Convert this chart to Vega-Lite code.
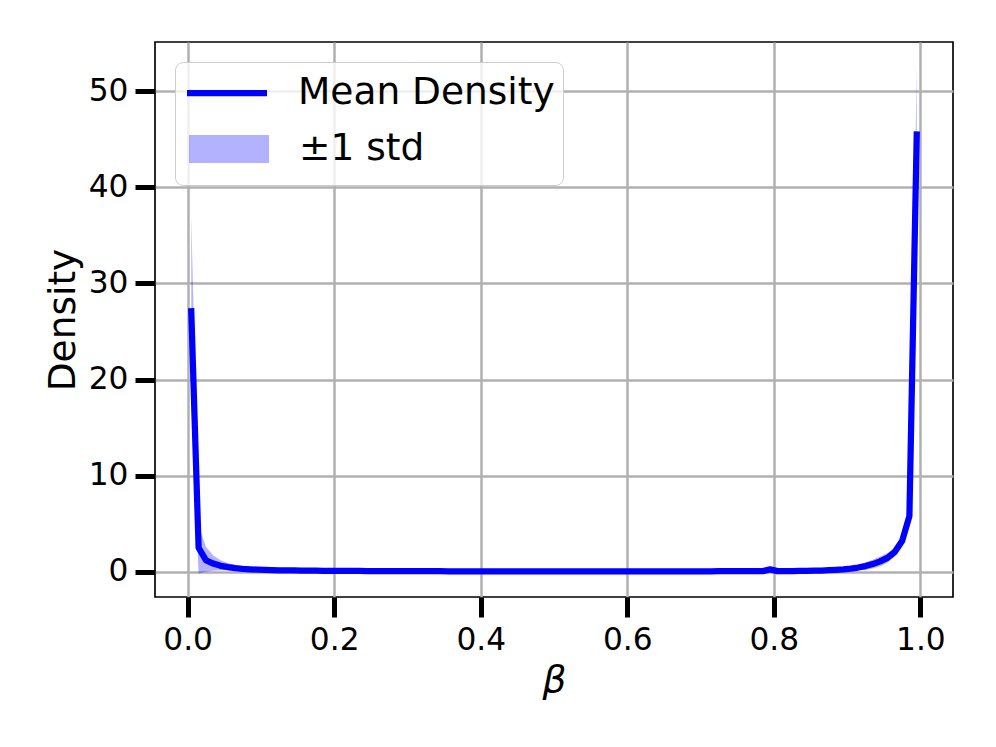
{
  "$schema": "https://vega.github.io/schema/vega-lite/v6.json",
  "width": 798,
  "height": 555,
  "autosize": {"type": "none"},
  "padding": {"left": 155, "top": 42, "right": 43, "bottom": 150},
  "background": "white",
  "config": {
    "view": {"stroke": "black", "strokeWidth": 1.67},
    "axis": {
      "domain": false,
      "grid": true,
      "gridColor": "#b0b0b0",
      "gridWidth": 2.5,
      "tickColor": "black",
      "tickSize": 20,
      "tickWidth": 5,
      "labelFontSize": 31.25,
      "labelFont": "DejaVu Sans",
      "labelColor": "black",
      "labelPadding": 7,
      "titleFont": "DejaVu Sans",
      "titleFontSize": 37.5,
      "titleFontWeight": "normal",
      "titleColor": "black"
    },
    "legend": {
      "orient": "none",
      "labelFontSize": 37.5,
      "labelFont": "DejaVu Sans",
      "labelColor": "black",
      "labelLimit": 500,
      "symbolSize": 1600
    }
  },
  "data": {
    "values": [
      {"x": 0.005, "mean": 27.1, "lower": 17.8, "upper": 37.0},
      {"x": 0.015, "mean": 2.5, "lower": -0.2, "upper": 4.8},
      {"x": 0.025, "mean": 1.2, "lower": 0.0, "upper": 2.6},
      {"x": 0.035, "mean": 0.85, "lower": 0.1, "upper": 1.7},
      {"x": 0.045, "mean": 0.62, "lower": 0.15, "upper": 1.2},
      {"x": 0.055, "mean": 0.49, "lower": 0.15, "upper": 0.9},
      {"x": 0.065, "mean": 0.38, "lower": 0.12, "upper": 0.7},
      {"x": 0.075, "mean": 0.31, "lower": 0.1, "upper": 0.55},
      {"x": 0.085, "mean": 0.26, "lower": 0.1, "upper": 0.45},
      {"x": 0.095, "mean": 0.22, "lower": 0.08, "upper": 0.38},
      {"x": 0.105, "mean": 0.19, "lower": 0.07, "upper": 0.32},
      {"x": 0.115, "mean": 0.17, "lower": 0.06, "upper": 0.28},
      {"x": 0.125, "mean": 0.155, "lower": 0.06, "upper": 0.25},
      {"x": 0.135, "mean": 0.145, "lower": 0.05, "upper": 0.24},
      {"x": 0.145, "mean": 0.135, "lower": 0.05, "upper": 0.22},
      {"x": 0.155, "mean": 0.125, "lower": 0.05, "upper": 0.2},
      {"x": 0.165, "mean": 0.12, "lower": 0.05, "upper": 0.19},
      {"x": 0.175, "mean": 0.11, "lower": 0.04, "upper": 0.18},
      {"x": 0.185, "mean": 0.105, "lower": 0.04, "upper": 0.17},
      {"x": 0.195, "mean": 0.1, "lower": 0.04, "upper": 0.16},
      {"x": 0.205, "mean": 0.095, "lower": 0.04, "upper": 0.15},
      {"x": 0.215, "mean": 0.09, "lower": 0.04, "upper": 0.14},
      {"x": 0.225, "mean": 0.088, "lower": 0.04, "upper": 0.14},
      {"x": 0.235, "mean": 0.085, "lower": 0.03, "upper": 0.14},
      {"x": 0.245, "mean": 0.08, "lower": 0.03, "upper": 0.13},
      {"x": 0.255, "mean": 0.078, "lower": 0.03, "upper": 0.13},
      {"x": 0.265, "mean": 0.075, "lower": 0.03, "upper": 0.12},
      {"x": 0.275, "mean": 0.072, "lower": 0.03, "upper": 0.12},
      {"x": 0.285, "mean": 0.07, "lower": 0.03, "upper": 0.11},
      {"x": 0.295, "mean": 0.068, "lower": 0.03, "upper": 0.11},
      {"x": 0.305, "mean": 0.065, "lower": 0.03, "upper": 0.1},
      {"x": 0.315, "mean": 0.063, "lower": 0.03, "upper": 0.1},
      {"x": 0.325, "mean": 0.06, "lower": 0.02, "upper": 0.1},
      {"x": 0.335, "mean": 0.058, "lower": 0.02, "upper": 0.09},
      {"x": 0.345, "mean": 0.056, "lower": 0.02, "upper": 0.09},
      {"x": 0.355, "mean": 0.054, "lower": 0.02, "upper": 0.09},
      {"x": 0.365, "mean": 0.052, "lower": 0.02, "upper": 0.08},
      {"x": 0.375, "mean": 0.05, "lower": 0.02, "upper": 0.08},
      {"x": 0.385, "mean": 0.049, "lower": 0.02, "upper": 0.08},
      {"x": 0.395, "mean": 0.048, "lower": 0.02, "upper": 0.08},
      {"x": 0.405, "mean": 0.047, "lower": 0.02, "upper": 0.07},
      {"x": 0.415, "mean": 0.046, "lower": 0.02, "upper": 0.07},
      {"x": 0.425, "mean": 0.045, "lower": 0.02, "upper": 0.07},
      {"x": 0.435, "mean": 0.044, "lower": 0.02, "upper": 0.07},
      {"x": 0.445, "mean": 0.043, "lower": 0.02, "upper": 0.07},
      {"x": 0.455, "mean": 0.042, "lower": 0.02, "upper": 0.07},
      {"x": 0.465, "mean": 0.041, "lower": 0.02, "upper": 0.07},
      {"x": 0.475, "mean": 0.04, "lower": 0.02, "upper": 0.06},
      {"x": 0.485, "mean": 0.04, "lower": 0.02, "upper": 0.06},
      {"x": 0.495, "mean": 0.039, "lower": 0.02, "upper": 0.06},
      {"x": 0.505, "mean": 0.039, "lower": 0.02, "upper": 0.06},
      {"x": 0.515, "mean": 0.039, "lower": 0.02, "upper": 0.06},
      {"x": 0.525, "mean": 0.039, "lower": 0.02, "upper": 0.06},
      {"x": 0.535, "mean": 0.04, "lower": 0.02, "upper": 0.06},
      {"x": 0.545, "mean": 0.04, "lower": 0.02, "upper": 0.06},
      {"x": 0.555, "mean": 0.04, "lower": 0.02, "upper": 0.06},
      {"x": 0.565, "mean": 0.041, "lower": 0.02, "upper": 0.06},
      {"x": 0.575, "mean": 0.041, "lower": 0.02, "upper": 0.06},
      {"x": 0.585, "mean": 0.042, "lower": 0.02, "upper": 0.07},
      {"x": 0.595, "mean": 0.042, "lower": 0.02, "upper": 0.07},
      {"x": 0.605, "mean": 0.043, "lower": 0.02, "upper": 0.07},
      {"x": 0.615, "mean": 0.044, "lower": 0.02, "upper": 0.07},
      {"x": 0.625, "mean": 0.045, "lower": 0.02, "upper": 0.07},
      {"x": 0.635, "mean": 0.046, "lower": 0.02, "upper": 0.07},
      {"x": 0.645, "mean": 0.047, "lower": 0.02, "upper": 0.07},
      {"x": 0.655, "mean": 0.048, "lower": 0.02, "upper": 0.08},
      {"x": 0.665, "mean": 0.049, "lower": 0.02, "upper": 0.08},
      {"x": 0.675, "mean": 0.05, "lower": 0.02, "upper": 0.08},
      {"x": 0.685, "mean": 0.051, "lower": 0.02, "upper": 0.08},
      {"x": 0.695, "mean": 0.052, "lower": 0.02, "upper": 0.08},
      {"x": 0.705, "mean": 0.053, "lower": 0.02, "upper": 0.09},
      {"x": 0.715, "mean": 0.054, "lower": 0.02, "upper": 0.09},
      {"x": 0.725, "mean": 0.055, "lower": 0.02, "upper": 0.09},
      {"x": 0.735, "mean": 0.056, "lower": 0.02, "upper": 0.09},
      {"x": 0.745, "mean": 0.057, "lower": 0.02, "upper": 0.09},
      {"x": 0.755, "mean": 0.058, "lower": 0.02, "upper": 0.1},
      {"x": 0.765, "mean": 0.06, "lower": 0.02, "upper": 0.1},
      {"x": 0.775, "mean": 0.062, "lower": 0.02, "upper": 0.1},
      {"x": 0.785, "mean": 0.065, "lower": 0.02, "upper": 0.11},
      {"x": 0.795, "mean": 0.25, "lower": 0.0, "upper": 0.5},
      {"x": 0.805, "mean": 0.07, "lower": 0.03, "upper": 0.11},
      {"x": 0.815, "mean": 0.072, "lower": 0.03, "upper": 0.12},
      {"x": 0.825, "mean": 0.078, "lower": 0.03, "upper": 0.13},
      {"x": 0.835, "mean": 0.085, "lower": 0.03, "upper": 0.14},
      {"x": 0.845, "mean": 0.095, "lower": 0.04, "upper": 0.15},
      {"x": 0.855, "mean": 0.11, "lower": 0.04, "upper": 0.18},
      {"x": 0.865, "mean": 0.13, "lower": 0.05, "upper": 0.21},
      {"x": 0.875, "mean": 0.16, "lower": 0.06, "upper": 0.26},
      {"x": 0.885, "mean": 0.2, "lower": 0.07, "upper": 0.33},
      {"x": 0.895, "mean": 0.25, "lower": 0.09, "upper": 0.41},
      {"x": 0.905, "mean": 0.33, "lower": 0.12, "upper": 0.54},
      {"x": 0.915, "mean": 0.44, "lower": 0.16, "upper": 0.72},
      {"x": 0.925, "mean": 0.59, "lower": 0.22, "upper": 0.96},
      {"x": 0.935, "mean": 0.8, "lower": 0.35, "upper": 1.25},
      {"x": 0.945, "mean": 1.08, "lower": 0.58, "upper": 1.58},
      {"x": 0.955, "mean": 1.45, "lower": 0.95, "upper": 1.95},
      {"x": 0.965, "mean": 2.05, "lower": 1.6, "upper": 2.5},
      {"x": 0.975, "mean": 3.2, "lower": 2.7, "upper": 3.7},
      {"x": 0.985, "mean": 5.8, "lower": 5.2, "upper": 6.4},
      {"x": 0.995, "mean": 45.5, "lower": 39.1, "upper": 52.5}
    ]
  },
  "encoding": {
    "x": {
      "field": "x",
      "type": "quantitative",
      "title": "β",
      "scale": {"domain": [-0.0445, 1.0445], "nice": false, "zero": false},
      "axis": {"values": [0, 0.2, 0.4, 0.6, 0.8, 1.0], "format": ".1f", "titleFontStyle": "italic", "titlePadding": 6}
    }
  },
  "layer": [
    {
      "mark": {"type": "area", "fillOpacity": 0.3},
      "encoding": {
        "y": {
          "field": "lower",
          "type": "quantitative",
          "title": "Density",
          "scale": {"domain": [-2.625, 55.125], "nice": false, "zero": false},
          "axis": {"values": [0, 10, 20, 30, 40, 50], "titlePadding": 6}
        },
        "y2": {"field": "upper"},
        "fill": {
          "datum": "±1 std",
          "type": "nominal",
          "scale": {"domain": ["±1 std"], "range": ["#0000ff"]},
          "legend": {
            "title": null,
            "legendX": 20,
            "legendY": 87,
            "padding": 0,
            "fillColor": "transparent",
            "zindex": 2,
            "symbolType": "M-1,-0.7H3V0.7H-1Z",
            "symbolStrokeWidth": 0,
            "symbolOpacity": 0.3,
            "symbolOffset": 14,
            "labelOffset": 70
          }
        }
      }
    },
    {
      "mark": {"type": "line", "strokeWidth": 6.25, "strokeCap": "square", "strokeJoin": "round"},
      "encoding": {
        "y": {"field": "mean", "type": "quantitative"},
        "stroke": {
          "datum": "Mean Density",
          "type": "nominal",
          "scale": {"domain": ["Mean Density"], "range": ["#0000ff"]},
          "legend": {
            "title": " ",
            "titleOrient": "bottom",
            "titleFontSize": 40,
            "titlePadding": 26,
            "legendX": 20,
            "legendY": 20,
            "padding": 7.5,
            "fillColor": "rgba(255,255,255,0.8)",
            "strokeColor": "#cccccc",
            "cornerRadius": 8,
            "zindex": 1,
            "symbolType": "M-1,0H3",
            "symbolStrokeWidth": 6.25,
            "symbolOpacity": 1,
            "symbolOffset": 1,
            "labelOffset": 67.5
          }
        }
      }
    }
  ]
}
